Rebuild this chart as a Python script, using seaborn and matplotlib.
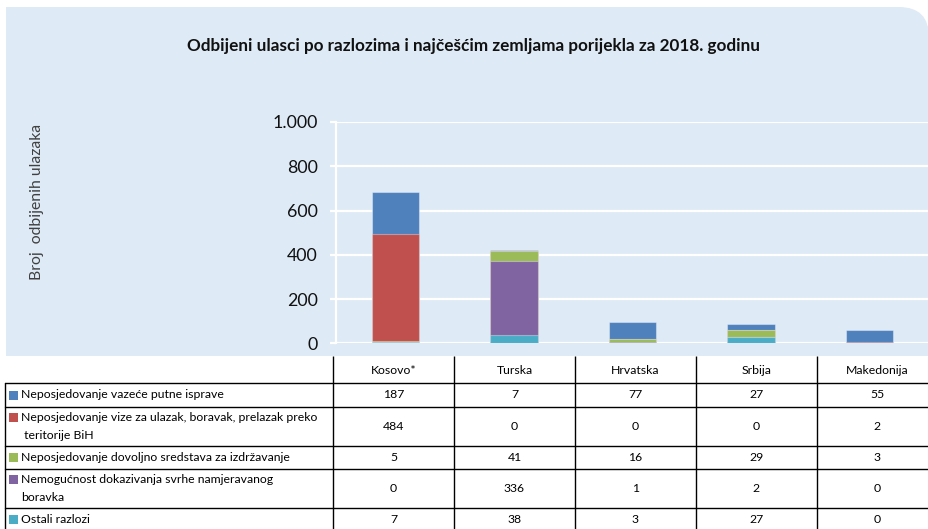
import numpy as np
import pandas as pd
import matplotlib.pyplot as plt
import matplotlib.patches as mpatches
from matplotlib.path import Path
from matplotlib.ticker import FuncFormatter
import seaborn as sns

# data
countries = ['Kosovo*', 'Turska', 'Hrvatska', 'Srbija', 'Makedonija']
reasons = [
    'Neposjedovanje vazeće putne isprave',
    'Neposjedovanje vize za ulazak, boravak, prelazak preko\n teritorije BiH',
    'Neposjedovanje dovoljno sredstava za izdržavanje',
    'Nemogućnost dokazivanja svrhe namjeravanog\nboravka',
    'Ostali razlozi',
]
putna_isprava = [187, 7, 77, 27, 55]
viza = [484, 0, 0, 0, 2]
sredstva = [5, 41, 16, 29, 3]
svrha_boravka = [0, 336, 1, 2, 0]
ostali = [7, 38, 3, 27, 0]
colors = ['#4F81BD', '#C0504D', '#9BBB59', '#8064A2', '#4BACC6']
yticks = [0, 200, 400, 600, 800, 1000]

title = 'Odbijeni ulasci po razlozima i najčešćim zemljama porijekla za 2018. godinu'
ylabel = 'Broj  odbijenih ulazaka'

series = [putna_isprava, viza, sredstva, svrha_boravka, ostali]

sns.set_theme(style='white')
plt.rcParams['font.family'] = ['Lato', 'DejaVu Sans']

W, H = 929, 529
fig = plt.figure(figsize=(W / 100, H / 100), dpi=100)

# background axis in pixel coordinates (panel, title, table)
bg = fig.add_axes([0, 0, 1, 1])
bg.set_xlim(0, W)
bg.set_ylim(H, 0)
bg.axis('off')

panel_col = '#DEEAF6'
r = 30
verts = [(6, 7), (W - r, 7), (W, 7), (W, 7 + r), (W, 356), (6, 356), (6, 7)]
codes = [Path.MOVETO, Path.LINETO, Path.CURVE3, Path.CURVE3, Path.LINETO, Path.LINETO, Path.CLOSEPOLY]
bg.add_patch(mpatches.PathPatch(Path(verts, codes), facecolor=panel_col, edgecolor='none'))

bg.text(474, 46, title, ha='center', va='center', fontsize=12.3, fontweight='bold', color='#111111')
bg.text(37, 202, ylabel, ha='center', va='center', rotation=90, fontsize=11.3, color='#404040')

# chart axes
ax = fig.add_axes([336 / W, (H - 343.3) / H, (W - 336) / W, (343.3 - 122) / H])
ax.set_facecolor('none')

df = pd.DataFrame({'country': countries})
cum = np.zeros(len(countries))
cums = []
for s in series[::-1]:
    cum = cum + np.array(s)
    cums.append(cum.copy())
cums = cums[::-1]  # cums[0] = total (blue on top)

for k, (c, col) in enumerate(zip(cums, colors)):
    df['val'] = c
    sns.barplot(data=df, x='country', y='val', color=col, width=0.4, saturation=1,
                edgecolor=(1, 1, 1, 0.35), linewidth=0.8, ax=ax)

ax.set_xlim(-0.5, len(countries) - 0.5)
ax.set_ylim(0, 1000)
ax.set_yticks(yticks)
ax.yaxis.set_major_formatter(FuncFormatter(lambda v, p: f'{int(v):,}'.replace(',', '.')))
ax.yaxis.grid(True, color='white', lw=1.6)
ax.set_axisbelow(True)
for side in ['top', 'right', 'bottom']:
    ax.spines[side].set_visible(False)
ax.spines['left'].set_color('white')
ax.spines['left'].set_linewidth(1.6)
ax.tick_params(axis='y', left=True, length=4, width=1.6, color='white', pad=9,
               labelsize=12.8, labelcolor='#111111')
ax.set_xticks([])
ax.set_xlabel('')
ax.set_ylabel('')

# data table
col_w = 121
col_edges = [333 + col_w * i for i in range(len(countries) + 1)]
row_edges = [383, 407, 446, 469, 508, 531]
lw = 1.0
fs = 8.8

for x in col_edges:
    bg.plot([x, x], [356, 531], color='black', lw=lw, solid_capstyle='butt')
bg.plot([5, 5], [383, 531], color='black', lw=lw)
for y in row_edges:
    bg.plot([5, W], [y, y], color='black', lw=lw)

for i, name in enumerate(countries):
    xc = (col_edges[i] + col_edges[i + 1]) / 2
    bg.text(xc, 371, name, ha='center', va='center', fontsize=fs, color='black')

for j, (lab, s, col) in enumerate(zip(reasons, series, colors)):
    y0, y1 = row_edges[j], row_edges[j + 1]
    yc = (y0 + y1) / 2
    lines = lab.split('\n')
    n = len(lines)
    for k, line in enumerate(lines):
        yl = yc - (n - 1) * 9 + k * 18
        bg.text(21, yl, line, ha='left', va='center', fontsize=fs, color='black')
    ysq = yc - (n - 1) * 9
    bg.add_patch(mpatches.Rectangle((9, ysq - 4.5), 9, 9, facecolor=col, edgecolor='none'))
    for i, v in enumerate(s):
        xc = (col_edges[i] + col_edges[i + 1]) / 2
        bg.text(xc, yc, str(v), ha='center', va='center', fontsize=fs, color='black')

fig.savefig('out.png', dpi=100, facecolor='white')
